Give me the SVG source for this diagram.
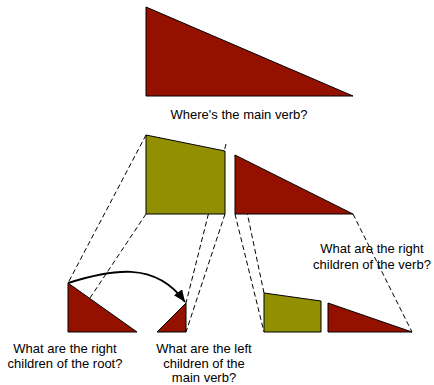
<svg xmlns="http://www.w3.org/2000/svg" width="434" height="385" viewBox="0 0 434 385">
  <style>
    .red { fill: #941100; stroke: #000; stroke-width: 1; stroke-linejoin: miter; }
    .olive { fill: #929000; stroke: #000; stroke-width: 1; }
    .dash { fill: none; stroke: #000; stroke-width: 1; stroke-dasharray: 5 3; }
    .arrow { fill: none; stroke: #000; stroke-width: 2; }
    text { font-family: "Liberation Sans", Arial, sans-serif; font-size: 13px; fill: #000; text-anchor: middle; }
  </style>
  <defs>
    <marker id="ah" markerUnits="userSpaceOnUse" markerWidth="14" markerHeight="12" refX="12" refY="5" orient="auto">
      <path d="M0,0 L12,5 L0,10 Z" fill="#000"/>
    </marker>
  </defs>

  <g id="connectors">
    <line class="dash" x1="146" y1="135" x2="68" y2="283"/>
    <line class="dash" x1="146" y1="214" x2="90" y2="298"/>
    <line class="dash" x1="226" y1="144" x2="186" y2="303"/>
    <line class="dash" x1="225" y1="214" x2="186" y2="332"/>
    <line class="dash" x1="235" y1="214" x2="264" y2="332"/>
    <line class="dash" x1="235" y1="155" x2="264" y2="293"/>
    <line class="dash" x1="353" y1="214" x2="412" y2="332"/>
    <path class="arrow" d="M68,283 C110,270 155,260 185,302" marker-end="url(#ah)"/>
  </g>

  <g id="root">
    <polygon class="red" points="146,7 146,96 353,96"/>
    <text x="239" y="119">Where's the main verb?</text>
  </g>

  <g id="left-child">
    <polygon class="olive" points="146,135 225,151 225,214 146,214"/>
  </g>

  <g id="verb">
    <polygon class="red" points="235,155 235,214 353,214"/>
    <text x="372" y="253">What are the right</text>
    <text x="372" y="269">children of the verb?</text>
  </g>

  <g id="root-right">
    <polygon class="red" points="68,283 68,332 137,332"/>
    <text x="65" y="353">What are the right</text>
    <text x="65" y="368">children of the root?</text>
  </g>

  <g id="verb-left">
    <polygon class="red" points="157,332 186,303 186,332"/>
    <text x="204" y="353">What are the left</text>
    <text x="204" y="368">children of the</text>
    <text x="204" y="382">main verb?</text>
  </g>

  <g id="verb-right-olive">
    <polygon class="olive" points="264,293 321,301 321,332 264,332"/>
  </g>

  <g id="verb-right-red">
    <polygon class="red" points="328,303 328,332 412,332"/>
  </g>
</svg>
